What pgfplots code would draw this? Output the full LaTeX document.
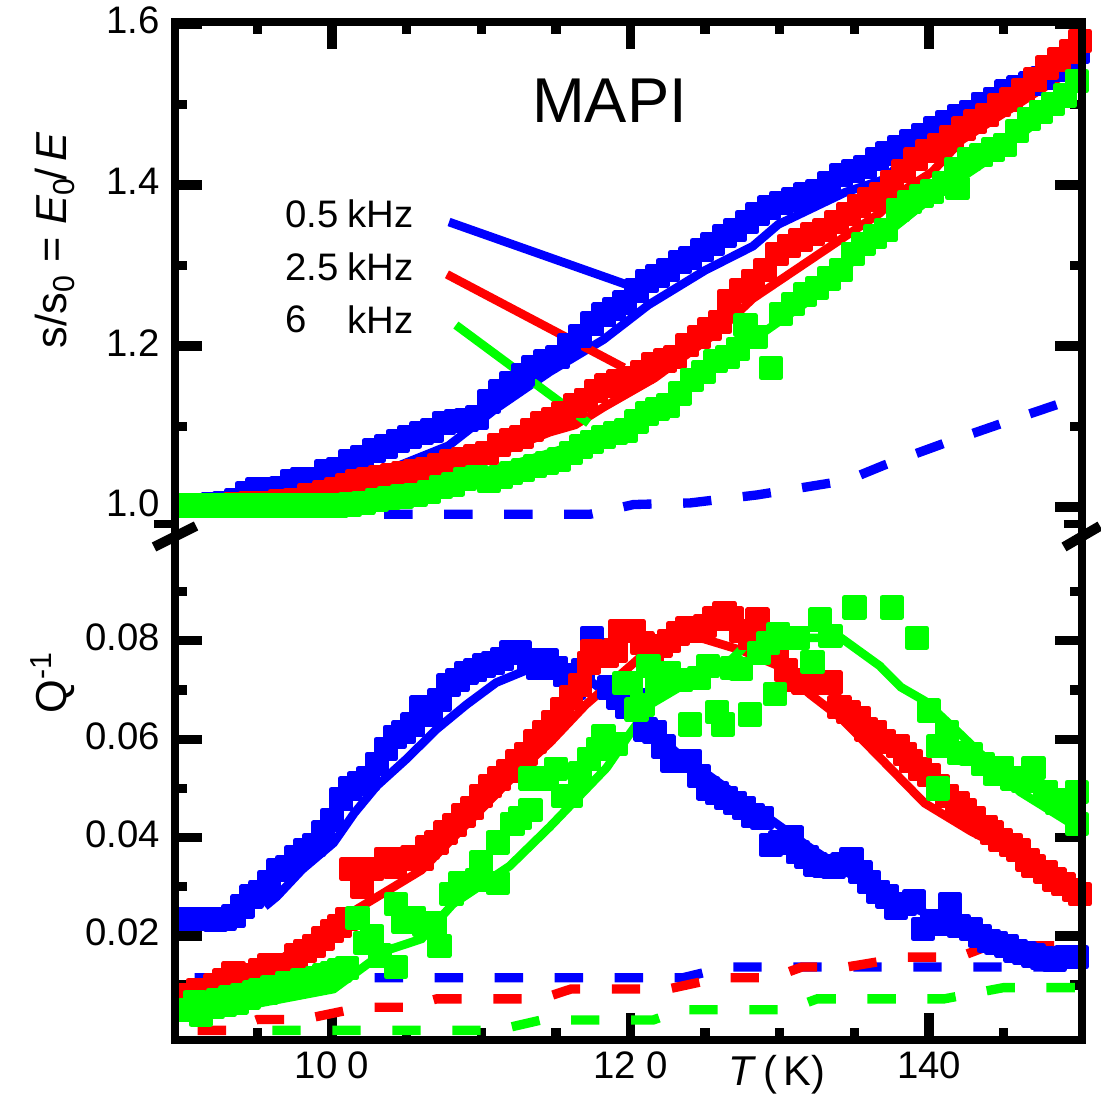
\documentclass[border=0pt]{standalone}
\usepackage{fontspec}
\setmainfont{Liberation Sans}
\usepackage{pgfplots}
\pgfplotsset{compat=1.18}
\definecolor{pblue}{RGB}{0,0,255}
\definecolor{pred}{RGB}{255,0,0}
\definecolor{pgreen}{RGB}{0,255,0}
\pgfplotsset{
 panel/.style={
  scale only axis, width=272.1pt,
  xmin=89.48, xmax=150.25,
  axis line style={draw=none},
  tick align=inside,
  major tick length=8pt, minor tick length=3.5pt,
  tick style={black, line width=2.8pt},
  xtick={100,120,140},
  minor xtick={95,105,110,115,125,130,135,145},
  ytick pos=both, yticklabel pos=left,
  /pgf/number format/assume math mode=true,
  tick label style={font=\fontsize{11.5}{13}\selectfont},
  label style={font=\fontsize{13}{15}\selectfont},
  yticklabel style={xshift=-1pt, yshift=1pt},
 },
 pts/.style={only marks, mark=square*, mark size=2.9pt, mark options={solid, line width=1.5pt, line join=round}},
 fit/.style={no markers, line width=2.6pt},
 dsh/.style={no markers, line width=2.8pt, dash pattern=on 8.5pt off 9.5pt},
}
\begin{document}
\begin{tikzpicture}
% ---------------- bottom panel: Q^-1 ----------------
\begin{axis}[panel, name=bot, at={(0,0)}, anchor=south west, height=150.9pt,
  ymin=-0.00115, ymax=0.1011,
  xtick pos=left, xticklabels={10\ 0,12\ 0,140},
  ytick={0.02,0.04,0.06,0.08}, yticklabels={0.02,0.04,0.06,0.08},
  minor ytick={0.01,0.03,0.05,0.07,0.09},
  ylabel={Q\textsuperscript{-1}},
  ylabel style={at={(axis description cs:-0.135,0.7117)}, anchor=center},
  xlabel={\textit{T}\,(\,K)},
  xlabel style={at={(axis description cs:0.6637,-0.0696)}, anchor=center, font=\fontsize{12.5}{14}\selectfont},
]
\addplot[pts, color=pblue] coordinates {
(90.4,0.0235) (91.0,0.0235) (91.6,0.0235) (92.2,0.0232) (92.8,0.0235) (93.4,0.024) (94.0,0.026) (94.6,0.028) (95.2,0.029) (95.8,0.031) (96.4,0.0334) (97.0,0.034) (97.6,0.036) (98.2,0.0375) (98.8,0.0385) (99.4,0.041) (100.0,0.0436) (100.6,0.0478) (101.2,0.050) (101.8,0.051) (102.4,0.052) (103.0,0.055) (103.6,0.058) (104.2,0.0605) (104.8,0.0615) (105.4,0.063) (106.0,0.0665) (106.6,0.065) (107.2,0.068) (107.8,0.071) (108.4,0.072) (109.0,0.0735) (109.6,0.074) (110.2,0.075) (110.8,0.0755) (111.4,0.0763) (112.0,0.0776) (112.6,0.0776) (113.2,0.076) (113.8,0.0745) (114.4,0.076) (115.0,0.0745) (115.6,0.073) (116.2,0.0705) (116.8,0.074) (117.4,0.0806) (118.0,0.078) (118.6,0.0705) (119.2,0.0685) (119.8,0.0665) (120.4,0.068) (121.0,0.062) (121.6,0.0615) (122.2,0.0585) (122.8,0.0556) (123.4,0.0555) (124.0,0.0556) (124.6,0.0525) (125.2,0.050) (125.8,0.049) (126.4,0.048) (127.0,0.047) (127.6,0.046) (128.2,0.0445) (128.8,0.044) (129.4,0.0385) (130.0,0.039) (130.8,0.040) (131.2,0.037) (131.8,0.036) (132.4,0.0345) (133.0,0.0342) (133.6,0.034) (134.2,0.0345) (134.8,0.0357) (135.4,0.033) (136.0,0.031) (136.6,0.029) (137.2,0.028) (137.8,0.0257) (138.4,0.0265) (139.0,0.027) (139.6,0.0214) (140.2,0.023) (140.8,0.0225) (141.4,0.0265) (142.0,0.022) (142.8,0.0214) (143.4,0.020) (144.0,0.019) (144.5,0.0186) (145.2,0.018) (145.8,0.017) (146.4,0.0165) (147.0,0.016) (147.6,0.0155) (148.4,0.0151) (149.2,0.0157) (149.9,0.0157)};
\addplot[pts, color=pred] coordinates {
(90.4,0.008) (91.0,0.009) (91.6,0.0085) (92.2,0.010) (92.8,0.011) (93.4,0.0125) (94.0,0.0105) (94.6,0.012) (95.2,0.013) (95.8,0.014) (96.4,0.0135) (97.0,0.014) (97.6,0.016) (98.2,0.017) (98.8,0.018) (99.4,0.0195) (100.0,0.021) (100.5,0.022) (101.0,0.0235) (101.3,0.0336) (102.0,0.030) (102.7,0.0336) (103.6,0.0357) (104.2,0.034) (104.8,0.0357) (105.4,0.036) (106.0,0.0357) (106.4,0.038) (107.0,0.039) (107.6,0.041) (108.2,0.0425) (108.8,0.0445) (109.4,0.046) (110.0,0.0485) (110.6,0.0505) (111.2,0.052) (111.8,0.0535) (112.4,0.0555) (113.0,0.057) (113.6,0.0595) (114.2,0.0615) (114.8,0.0635) (115.4,0.066) (116.0,0.0685) (116.6,0.071) (117.2,0.0755) (117.4,0.0778) (118.4,0.077) (119.0,0.078) (119.3,0.082) (120.2,0.082) (120.8,0.0795) (121.4,0.078) (122.0,0.079) (122.6,0.080) (123.2,0.0815) (123.8,0.0825) (124.4,0.082) (125.0,0.083) (125.6,0.0845) (126.3,0.0857) (126.8,0.0845) (127.4,0.082) (128.0,0.0805) (128.5,0.0843) (129.2,0.081) (129.8,0.078) (130.4,0.074) (131.0,0.072) (131.6,0.0715) (132.2,0.0715) (133.4,0.0715) (134.0,0.0665) (134.6,0.0655) (135.3,0.0643) (135.8,0.062) (136.4,0.0615) (137.0,0.0595) (137.9,0.0586) (138.4,0.057) (138.8,0.0555) (139.4,0.054) (140.0,0.0527) (140.6,0.0505) (141.2,0.0485) (141.9,0.047) (142.4,0.0455) (143.0,0.044) (143.8,0.0422) (144.2,0.041) (144.8,0.0395) (145.5,0.0385) (146.0,0.0375) (146.6,0.0355) (147.0,0.0342) (147.8,0.033) (148.4,0.0315) (149.0,0.0305) (149.7,0.0294) (150.1,0.0285)};
\addplot[pts, color=pgreen] coordinates {
(90.4,0.005) (90.8,0.0065) (91.2,0.004) (91.6,0.006) (92.0,0.0055) (92.4,0.007) (92.8,0.006) (93.2,0.0075) (93.6,0.0065) (94.0,0.008) (94.4,0.0075) (94.8,0.0085) (95.2,0.009) (95.6,0.0085) (96.0,0.0095) (96.5,0.0095) (97.0,0.0105) (97.5,0.010) (98.0,0.011) (98.5,0.0105) (99.0,0.0115) (99.5,0.012) (100.0,0.0125) (100.5,0.013) (101.0,0.0135) (101.7,0.0237) (102.2,0.0186) (102.7,0.020) (103.2,0.016) (104.3,0.0265) (104.3,0.0137) (104.8,0.0228) (105.5,0.0237) (106.2,0.0222) (106.9,0.0225) (107.2,0.018) (108.0,0.0285) (108.6,0.0308) (109.7,0.0314) (110.0,0.035) (111.1,0.0308) (111.1,0.039) (112.1,0.0428) (112.6,0.044) (113.3,0.0456) (113.3,0.052) (114.4,0.052) (115.0,0.054) (115.5,0.0485) (116.0,0.0485) (116.6,0.053) (117.2,0.056) (117.8,0.058) (118.2,0.0607) (119.0,0.059) (119.6,0.0714) (120.0,0.0714) (120.4,0.066) (120.8,0.067) (121.2,0.0749) (121.8,0.071) (122.6,0.0735) (123.4,0.072) (124.0,0.063) (124.6,0.0725) (125.2,0.0749) (125.8,0.0655) (126.2,0.063) (126.8,0.0745) (127.4,0.0743) (128.0,0.065) (128.6,0.0775) (129.2,0.0795) (129.7,0.0692) (129.9,0.0814) (130.6,0.0805) (131.2,0.0805) (132.2,0.0757) (132.7,0.0843) (133.4,0.081) (135.0,0.0868) (137.5,0.0868) (139.2,0.0806) (140.0,0.0658) (140.6,0.0586) (140.6,0.050) (141.2,0.0615) (142.0,0.0572) (142.8,0.057) (143.6,0.055) (144.4,0.053) (144.9,0.0542) (145.6,0.052) (146.3,0.0515) (147.0,0.0542) (147.8,0.0493) (148.6,0.047) (149.3,0.0475) (149.9,0.0493) (149.9,0.0428)};
\addplot[fit, color=pblue] coordinates {
(95.5,0.026) (96.3,0.028) (98,0.0335) (100.1,0.0389) (101.5,0.045) (103,0.0505) (105,0.056) (107,0.062) (109,0.067) (111,0.0715) (113,0.074) (115,0.0745) (117,0.0725) (119,0.068) (121,0.063) (123,0.0575) (126,0.051) (129,0.0445) (132,0.038) (135,0.032) (138,0.027) (141,0.023) (145,0.019) (150.3,0.016)};
\addplot[fit, color=pred] coordinates {
(90.5,0.008) (96,0.0141) (100.5,0.0233) (106,0.0334) (109.3,0.0436) (112.6,0.0538) (114.6,0.0593) (117,0.067) (120,0.0749) (122.4,0.0814) (124.9,0.0804) (127.5,0.078) (129.9,0.0749) (132,0.0692) (134.1,0.0643) (139.7,0.047) (142.8,0.0413) (150.3,0.0294)};
\addplot[fit, color=pgreen] coordinates {
(90.5,0.003) (94.2,0.0058) (100.1,0.0092) (103.6,0.017) (106,0.0194) (108.1,0.0265) (111.9,0.0342) (114.6,0.0422) (118.4,0.0542) (120,0.0613) (121.4,0.0672) (123.8,0.0715) (126.8,0.0763) (128.2,0.0806) (134.1,0.0806) (136.7,0.0749) (138.1,0.0706) (139.7,0.0678) (142,0.0613) (146.1,0.0493) (150.3,0.0414)};
\addplot[dsh, color=pblue] coordinates {(90.8,0.0115) (123.5,0.0115) (126.5,0.0137) (150.3,0.0137)};
\addplot[dsh, color=pred] coordinates {(91,0.0008) (93,0.0008) (95,0.003) (98,0.003) (102,0.0055) (105,0.0055) (107,0.0072) (114,0.0072) (116,0.0092) (122.5,0.0092) (126,0.0115) (129.5,0.0115) (131.5,0.0137) (134.5,0.0137) (138.5,0.0157) (142,0.0157) (144,0.018) (150.3,0.018)};
\addplot[dsh, color=pgreen] coordinates {(96,0.0008) (111,0.0008) (114,0.0029) (121.5,0.0029) (123.5,0.005) (130.5,0.005) (132.5,0.0072) (141,0.0072) (145,0.0095) (150.3,0.0095)};
\end{axis}
% ---------------- top panel: s/s0 ----------------
\begin{axis}[panel, name=top, at={(0,150.9pt)}, anchor=south west, height=154.5pt,
  ymin=0.9627, ymax=1.6025,
  xtick pos=right, xticklabels={},
  ytick={1.0,1.2,1.4,1.6}, yticklabels={1.0,1.2,1.4,1.6},
  minor ytick={1.1,1.3,1.5},
  ylabel={s/s\textsubscript{0} = \textit{E}\textsubscript{0}\kern-1pt/\,\textit{E}},
  ylabel style={at={(axis description cs:-0.1323,0.5767)}, anchor=center},
]
\addplot[pts, color=pblue] coordinates {
(90.4,1.002) (91.2,1.002) (92.0,1.003) (92.8,1.005) (93.6,1.009) (94.3,1.017) (95.0,1.022) (95.8,1.022) (96.6,1.023) (97.3,1.032) (98.0,1.035) (98.8,1.035) (99.6,1.044) (100.4,1.047) (101.2,1.057) (102.0,1.062) (102.8,1.070) (103.6,1.075) (104.4,1.082) (105.2,1.087) (106.0,1.092) (106.7,1.095) (107.5,1.104) (108.3,1.107) (109.0,1.108) (109.7,1.111) (110.5,1.131) (111.3,1.144) (112.0,1.154) (112.8,1.164) (113.5,1.174) (114.3,1.181) (115.1,1.186) (115.9,1.201) (116.6,1.212) (117.4,1.228) (118.2,1.239) (118.9,1.246) (119.6,1.254) (120.4,1.269) (121.1,1.281) (121.8,1.287) (122.5,1.294) (123.3,1.304) (124.0,1.309) (124.8,1.319) (125.5,1.327) (126.3,1.337) (127.0,1.344) (127.8,1.354) (128.5,1.364) (129.3,1.372) (130.1,1.378) (130.9,1.382) (131.7,1.388) (132.5,1.392) (133.3,1.402) (134.1,1.412) (134.9,1.417) (135.7,1.422) (136.5,1.432) (137.2,1.439) (138.0,1.447) (138.8,1.454) (139.6,1.462) (140.4,1.470) (141.2,1.478) (142.0,1.485) (142.8,1.491) (143.6,1.501) (144.4,1.507) (145.2,1.516) (146.0,1.521) (146.8,1.526) (147.6,1.533) (148.4,1.543) (149.2,1.556) (150.0,1.566)};
\addplot[pts, color=pred] coordinates {
(90.5,1.001) (91.5,1.001) (92.5,1.002) (93.5,1.003) (94.5,1.005) (95.5,1.005) (96.5,1.007) (97.5,1.009) (98.5,1.015) (99.5,1.019) (100.3,1.022) (101.0,1.027) (101.7,1.032) (102.4,1.034) (103.2,1.037) (104.0,1.039) (104.8,1.042) (105.6,1.045) (106.4,1.047) (107.2,1.052) (108.0,1.057) (108.8,1.060) (109.6,1.063) (110.4,1.067) (111.2,1.077) (112.0,1.083) (112.7,1.087) (113.4,1.096) (114.1,1.104) (114.8,1.109) (115.5,1.116) (116.3,1.126) (117.0,1.133) (117.7,1.144) (118.4,1.151) (119.2,1.156) (120.0,1.160) (120.8,1.168) (121.5,1.177) (122.3,1.182) (123.0,1.186) (123.8,1.201) (124.6,1.211) (125.3,1.221) (126.0,1.230) (126.6,1.256) (127.4,1.269) (128.2,1.281) (129.0,1.294) (129.8,1.314) (130.6,1.324) (131.4,1.332) (132.2,1.339) (133.0,1.344) (133.8,1.354) (134.6,1.364) (135.3,1.374) (136.0,1.382) (136.8,1.389) (137.5,1.404) (138.3,1.417) (139.1,1.432) (139.9,1.442) (140.7,1.450) (141.5,1.460) (142.3,1.470) (143.1,1.479) (143.9,1.487) (144.7,1.499) (145.5,1.506) (146.3,1.518) (147.1,1.531) (147.9,1.546) (148.7,1.556) (149.5,1.566) (150.1,1.579)};
\addplot[pts, color=pgreen] coordinates {
(90.4,1.002) (91.3,1.002) (92.2,1.002) (93.1,1.002) (94.0,1.002) (94.9,1.002) (95.8,1.002) (96.7,1.002) (97.6,1.002) (98.5,1.002) (99.4,1.002) (100.3,1.002) (101.2,1.003) (102.1,1.005) (103.0,1.009) (103.8,1.011) (104.7,1.013) (105.6,1.015) (106.5,1.019) (107.3,1.025) (108.1,1.028) (108.9,1.035) (109.7,1.037) (110.5,1.032) (111.3,1.037) (112.0,1.042) (112.8,1.046) (113.6,1.051) (114.4,1.055) (115.2,1.059) (116.0,1.067) (116.7,1.075) (117.4,1.081) (118.2,1.087) (119.0,1.092) (119.7,1.095) (120.4,1.106) (121.1,1.116) (121.8,1.122) (122.5,1.126) (123.3,1.141) (124.1,1.158) (124.9,1.168) (125.7,1.181) (126.5,1.186) (127.2,1.196) (127.7,1.226) (128.4,1.211) (129.4,1.173) (130.1,1.240) (130.9,1.252) (131.7,1.264) (132.5,1.272) (133.3,1.284) (134.1,1.294) (134.9,1.314) (135.6,1.327) (136.4,1.336) (137.1,1.344) (137.9,1.369) (138.7,1.379) (139.5,1.386) (140.2,1.392) (141.0,1.402) (141.8,1.420) (141.9,1.396) (142.7,1.432) (143.5,1.437) (144.3,1.444) (145.1,1.450) (145.9,1.467) (146.7,1.482) (147.5,1.491) (148.3,1.501) (149.1,1.511) (149.9,1.529)};
\addplot[fit, color=pblue] coordinates {
(91.6,1.002) (95.8,1.002) (100.1,1.023) (104.3,1.050) (107.8,1.076) (110.9,1.121) (114.6,1.168) (118.2,1.208) (121.2,1.251) (125,1.294) (128.2,1.324) (129.9,1.351) (134.4,1.391) (137,1.407) (138.2,1.429) (140.2,1.442) (142.4,1.474) (144,1.482) (150.3,1.565)};
\addplot[fit, color=pred] coordinates {
(91.6,1.000) (97,1.000) (100.3,1.011) (103.4,1.011) (109.5,1.055) (114.6,1.093) (116.3,1.102) (118.2,1.124) (121.6,1.160) (125.8,1.217) (128.2,1.259) (136.7,1.365) (138.1,1.391) (140.2,1.416) (142.2,1.456) (150.3,1.552)};
\addplot[fit, color=pgreen] coordinates {
(91.6,0.994) (97.5,0.994) (99.5,1.000) (103.6,1.003) (106,1.017) (109.2,1.037) (112,1.052) (115.3,1.071) (119.3,1.102) (123.3,1.139) (127.3,1.196) (132,1.257) (135.4,1.314) (140,1.382) (144,1.432) (148.1,1.491) (150.3,1.531)};
\addplot[dsh, color=pblue] coordinates {
(103.5,0.991) (117.3,0.991) (120.2,1.003) (124,1.005) (128.5,1.015) (132.5,1.027) (134.5,1.033) (137,1.052) (141,1.079) (146,1.111) (150.3,1.138)};
% annotation lines of the key
\addplot[fit, color=pblue] coordinates {(107.84,1.354) (120.23,1.273)};
\addplot[fit, color=pred] coordinates {(107.7,1.289) (119.56,1.173)};
\addplot[fit, color=pgreen] coordinates {(108.3,1.226) (117.2,1.104)};
\node[anchor=west, font=\fontsize{11.5}{13}\selectfont, inner sep=0pt] at (axis cs:96.85,1.364) {0.5};
\node[anchor=west, font=\fontsize{11.5}{13}\selectfont, inner sep=0pt] at (axis cs:96.85,1.298) {2.5};
\node[anchor=west, font=\fontsize{11.5}{13}\selectfont, inner sep=0pt] at (axis cs:96.85,1.233) {6};
\node[anchor=west, font=\fontsize{11.5}{13}\selectfont, inner sep=0pt] at (axis cs:101.0,1.364) {kHz};
\node[anchor=west, font=\fontsize{11.5}{13}\selectfont, inner sep=0pt] at (axis cs:101.0,1.298) {kHz};
\node[anchor=west, font=\fontsize{11.5}{13}\selectfont, inner sep=0pt] at (axis cs:101.0,1.233) {kHz};
\node[font=\fontsize{19}{22}\selectfont] at (axis cs:118.6,1.505) {MAPI};
\end{axis}
% frame and axis break marks
\draw[line width=2.6pt] (0,0) rectangle (272.1pt,305.4pt);
\draw[line width=3pt] (-6.3pt,147.9pt) -- (6.3pt,154.2pt);
\draw[line width=3pt] (266.7pt,147.9pt) -- (277.5pt,154.2pt);
\draw[line width=2.6pt] (-6.3pt,154.8pt) -- (0,154.8pt);
\draw[line width=2.6pt] (266.7pt,154.8pt) -- (272.1pt,154.8pt);
\pgfresetboundingbox
\useasboundingbox (-52.5pt,-17.4pt) rectangle (277.8pt,312pt);
\end{tikzpicture}
\end{document}
